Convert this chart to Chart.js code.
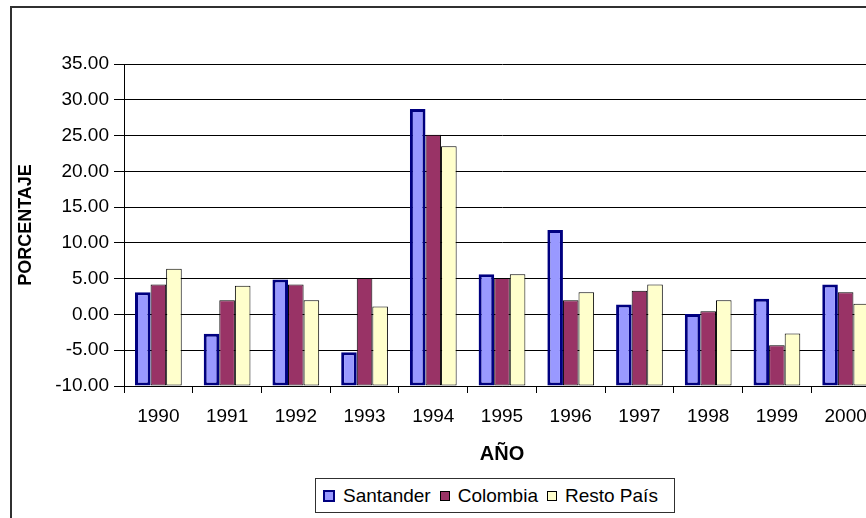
<!DOCTYPE html>
<html>
<head>
<meta charset="utf-8">
<script src="https://cdn.jsdelivr.net/npm/chart.js@4/dist/chart.umd.min.js"></script>
<style>
	html, body { margin: 0; padding: 0; background: #fff; overflow: hidden; }
	#wrap { position: relative; width: 866px; height: 518px; overflow: hidden; }
	#marco { position: absolute; left: 10px; top: 6px; width: 1000px; height: 1000px; border-left: 2px solid #303030; border-top: 2px solid #303030; }
	#barChart { position: absolute; left: 0; top: 0; }
	#leyenda { position: absolute; left: 315px; top: 478px; width: 358px; height: 33px; border: 1px solid #303030; background: #fff;
		font-family: "Liberation Sans", Arial, sans-serif; font-size: 19px; color: #000; display: flex; align-items: center; box-sizing: content-box; }
	#leyenda span.item { display: inline-flex; align-items: center; margin-left: 7px; margin-right: 2px; }
	#leyenda span.cuadro { display: inline-block; width: 8px; height: 8px; margin-right: 8px; }
</style>
</head>
<body>
<div id="wrap">
	<div id="marco"></div>
	<canvas id="barChart" width="900" height="518"></canvas>
	<div id="leyenda"></div>
</div>
<script>
console.log("grafico | LOADED");

// DATOS
var anios = ['1990','1991','1992','1993','1994','1995','1996','1997','1998','1999','2000'];
var santander = [3.1, -2.7, 4.9, -5.3, 28.7, 5.6, 11.8, 1.4, 0.05, 2.2, 4.2];
var colombia = [4.2, 2.0, 4.2, 5.1, 25.1, 5.1, 2.0, 3.3, 0.45, -4.3, 3.1];
var restoPais = [6.4, 4.0, 2.0, 1.1, 23.5, 5.6, 3.1, 4.2, 2.0, -2.65, 1.5];
var series = ['Santander', 'Colombia', 'Resto País'];
var ejeMin = -10;
var ejeMax = 35;
var paso = 5;

var fuente = "'Liberation Sans', Arial, sans-serif";

var data = {
	labels: anios,
	datasets: [
		{
			label: series[0],
			data: santander,
			backgroundColor: "#9999FF",
			borderColor: "#000080",
			borderWidth: 3
		},
		{
			label: series[1],
			data: colombia,
			backgroundColor: "#993366",
			borderColor: "#000000",
			borderWidth: 1
		},
		{
			label: series[2],
			data: restoPais,
			backgroundColor: "#FFFFCC",
			borderColor: "#000000",
			borderWidth: 1
		}
	]
};

// las barras salen desde el eje (-10), como en Excel
for (var k = 0; k < data.datasets.length; k++) {
	data.datasets[k].base = ejeMin;
	data.datasets[k].borderSkipped = false;
	data.datasets[k].categoryPercentage = 0.68;
	data.datasets[k].barPercentage = 1.0;
}

var options = {
	responsive: false,
	animation: false,
	layout: { padding: { left: 0, top: 64, right: 20, bottom: 0 } },
	plugins: {
		legend: { display: false },
		tooltip: { enabled: false }
	},
	scales: {
		x: {
			offset: true,
			grid: { drawOnChartArea: false, drawTicks: true, tickLength: 7, color: "#000", offset: true },
			border: { color: "#000", width: 1 },
			ticks: { color: "#000", padding: 12, font: { family: fuente, size: 19 }, maxRotation: 0, autoSkip: false },
			title: { display: true, text: 'AÑO', color: "#000", font: { family: fuente, size: 20, weight: 'bold' }, padding: { top: 0, bottom: 52 } },
			afterFit: function (scale) { scale.height = 132; }
		},
		y: {
			min: ejeMin,
			max: ejeMax,
			grid: { color: "#000", lineWidth: 1, drawTicks: true, tickLength: 10 },
			border: { color: "#000", width: 1 },
			ticks: {
				stepSize: paso,
				color: "#000",
				padding: 5,
				font: { family: fuente, size: 19 },
				callback: function (v) { return Number(v).toFixed(2); }
			},
			title: { display: true, text: 'PORCENTAJE', color: "#000", font: { family: fuente, size: 18, weight: 'bold' }, padding: { top: 15, bottom: 0 } },
			afterFit: function (scale) { scale.width = 124; }
		}
	}
};

var ctx = document.getElementById('barChart');
var myBarChart = new Chart(ctx, {
	type: 'bar',
	data: data,
	options: options
});

// LEYENDA
var leyenda = document.getElementById('leyenda');
for (var k = 0; k < data.datasets.length; k++) {
	var ds = data.datasets[k];
	var item = document.createElement('span');
	item.className = 'item';
	var cuadro = document.createElement('span');
	cuadro.className = 'cuadro';
	cuadro.style.background = ds.backgroundColor;
	cuadro.style.border = (k == 0 ? 2 : 1) + 'px solid ' + ds.borderColor;
	item.appendChild(cuadro);
	item.appendChild(document.createTextNode(ds.label));
	leyenda.appendChild(item);
}
</script>
</body>
</html>
